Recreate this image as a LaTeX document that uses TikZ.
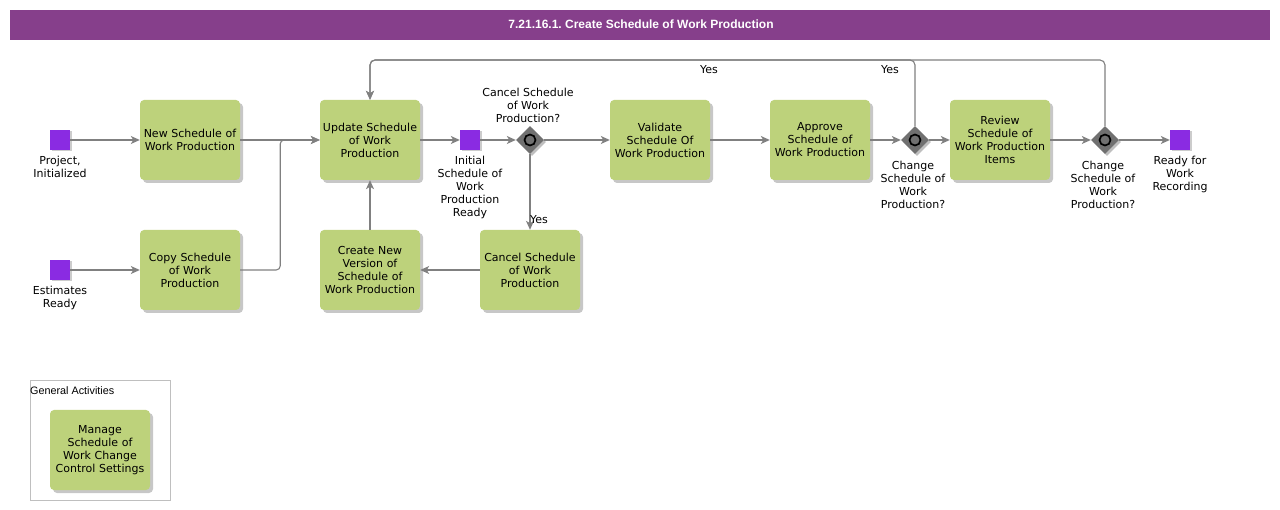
\documentclass[tikz,border=0pt]{standalone}
\usepackage{fontspec}
\setmainfont{DejaVu Sans}
\newfontfamily\arialfont{Liberation Sans}
\usetikzlibrary{arrows.meta,shapes.geometric,shadows}
\definecolor{titlebg}{RGB}{134,63,139}
\definecolor{taskgreen}{RGB}{189,210,123}
\definecolor{evpurple}{RGB}{138,43,226}
\definecolor{conngray}{RGB}{128,128,128}
\definecolor{gwgray}{RGB}{112,112,112}
\frenchspacing
\begin{document}
\begin{tikzpicture}[x=1pt,y=-1pt,
  every node/.style={font=\fontsize{11}{13}\selectfont},
  task/.style={fill=taskgreen, rounded corners=4pt, minimum width=100pt, minimum height=80pt,
    text width=100pt, inner sep=0pt, align=center,
    drop shadow={shadow xshift=3pt, shadow yshift=-3pt, fill=black, opacity=0.22}},
  event/.style={fill=evpurple, minimum size=20pt, inner sep=0pt,
    drop shadow={shadow xshift=1.5pt, shadow yshift=-1.5pt, fill=black, opacity=0.2}},
  gateway/.style={diamond, fill=gwgray, minimum width=28pt, minimum height=28pt, inner sep=0pt,
    drop shadow={shadow xshift=2pt, shadow yshift=-2pt, fill=black, opacity=0.25}},
  lbl/.style={align=center, inner sep=0pt},
  conn/.style={draw=conngray, line width=1.1pt, -{Stealth[length=9pt,width=8pt,inset=2.5pt]}},
  ring/.style={draw=black, line width=1.7pt}
]
\useasboundingbox (0,0) rectangle (1280,510);
% title
\node[fill=titlebg, minimum width=1260pt, minimum height=30pt, inner sep=0pt] (title) at (640,25) {};
\node[text=white, font=\arialfont\bfseries\fontsize{12}{14}\selectfont] (titletext) at (641,24) {7.21.16.1. Create Schedule of Work Production};

% events
\node[event] (e1) at (60,140) {};
\node[event] (e2) at (60,270) {};
\node[event] (e3) at (470,140) {};
\node[event] (e4) at (1180,140) {};
\node[lbl, anchor=north] (e1l) at (60,156) {Project,\\Initialized};
\node[lbl, anchor=north] (e2l) at (60,286) {Estimates\\Ready};
\node[lbl, anchor=north] (e3l) at (470,156) {Initial\\Schedule of\\Work\\Production\\Ready};
\node[lbl, anchor=north] (e4l) at (1180,156) {Ready for\\Work\\Recording};

% tasks
\node[task] (t1) at (190,140) {New Schedule of\\Work Production};
\node[task] (t2) at (370,140) {Update Schedule\\of Work\\Production};
\node[task] (t3) at (190,270) {Copy Schedule\\of Work\\Production};
\node[task] (t4) at (370,270) {Create New\\Version of\\Schedule of\\Work Production};
\node[task] (t5) at (530,270) {Cancel Schedule\\of Work\\Production};
\node[task] (t6) at (660,140) {Validate\\Schedule Of\\Work Production};
\node[task] (t7) at (820,140) {Approve\\Schedule of\\Work Production};
\node[task] (t8) at (1000,140) {Review\\Schedule of\\Work Production\\Items};

% gateways
\node[gateway] (g1) at (530,140) {};
\node[gateway] (g2) at (915,140) {};
\node[gateway] (g3) at (1105,140) {};
\draw[ring] (g1.center) circle (5.5pt);
\draw[ring] (g2.center) circle (5.5pt);
\draw[ring] (g3.center) circle (5.5pt);
\node[lbl, anchor=south] (g1l) at (528,123) {Cancel Schedule\\of Work\\Production?};
\node[lbl, anchor=north] (g2l) at (913,161) {Change\\Schedule of\\Work\\Production?};
\node[lbl, anchor=north] (g3l) at (1103,161) {Change\\Schedule of\\Work\\Production?};

% connectors
\coordinate (loop) at (370,60);
\draw[conn] (e1) -- (t1);
\draw[conn] (e2) -- (t3);
\draw[conn] (t1) -- (t2);
\draw[conn, rounded corners=4pt] (t3.east) -- ++(40,0) |- (t2.west);
\draw[conn] (t2) -- (e3);
\draw[conn] (e3) -- (g1);
\draw[conn] (g1) -- (t6);
\draw[conn] (g1) -- (t5);
\draw[conn] (t5) -- (t4);
\draw[conn] (t4) -- (t2);
\draw[conn] (t6) -- (t7);
\draw[conn] (t7) -- (g2);
\draw[conn] (g2) -- (t8);
\draw[conn] (t8) -- (g3);
\draw[conn] (g3) -- (e4);
\draw[conn, rounded corners=5pt] (g2.north) |- (loop) -- (t2.north);
\draw[conn, rounded corners=5pt] (g3.north) |- (loop) -- (t2.north);

\node (y1) at (539,220) {Yes};
\node (y2) at (709,70) {Yes};
\node (y3) at (890,70) {Yes};

% general activities
\node[draw=black!25, minimum width=140pt, minimum height=120pt, inner sep=0pt] (ga) at (100,440) {};
\node[anchor=west, inner sep=0pt, font=\arialfont\fontsize{10.8}{13}\selectfont] (gal) at (30,391) {General Activities};
\node[task] (t9) at (100,450) {Manage\\Schedule of\\Work Change\\Control Settings};
\end{tikzpicture}
\end{document}
